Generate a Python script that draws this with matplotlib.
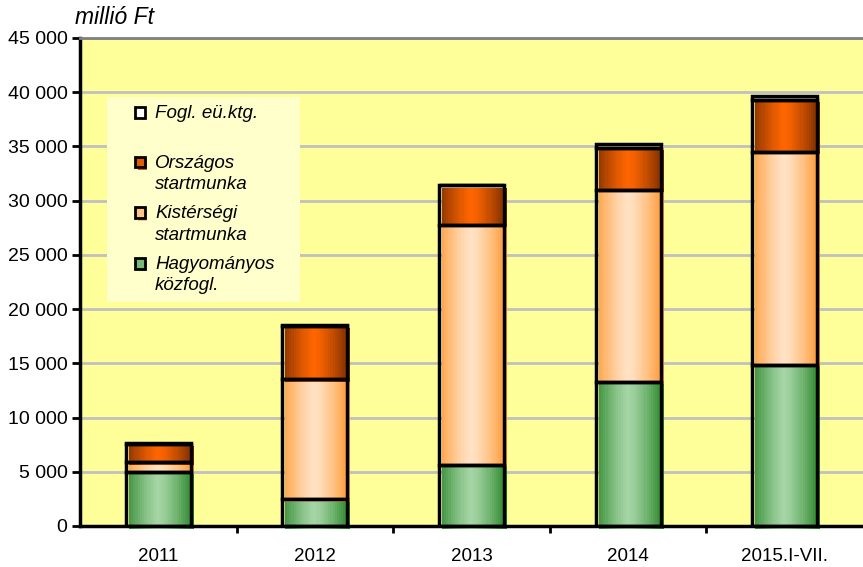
import matplotlib
matplotlib.use("Agg")
import matplotlib.pyplot as plt
from matplotlib.patches import Rectangle
import numpy as np

plt.rcParams["font.family"] = ["Liberation Sans", "DejaVu Sans"]

# data (millió Ft)
years = ["2011", "2012", "2013", "2014", "2015.I-VII."]
hagyomanyos = [4980, 2460, 5650, 13310, 14850]
kistersegi = [920, 11070, 22120, 17690, 19680]
orszagos = [1700, 4950, 3650, 3900, 4790]
fogl = [60, 60, 70, 340, 350]

series = [
    ("Hagyományos\nközfogl.", hagyomanyos, "#2b872b", "#a6d6a6", "#78b878"),
    ("Kistérségi\nstartmunka", kistersegi, "#ff9933", "#ffe3c6", "#ffc48a"),
    ("Országos\nstartmunka", orszagos, "#7a2e00", "#ff6600", "#e05a00"),
    ("Fogl. eü.ktg.", fogl, "#ffffff", "#ffffff", "#ffffff"),
]

fig = plt.figure(figsize=(8.63, 5.67), dpi=100)
ax = fig.add_axes([80 / 863, 41 / 567, 783 / 863, 488 / 567])
ax.set_facecolor("#ffff99")

x = np.arange(len(years))
width = 0.415
# the gradient fills sit a few pixels right of / below the outlines
dx = 3 / 156.6
dy = 2.5 / 10.84 * 1000


def gradient(edge, center, n=30):
    t = np.linspace(0, 1, n)
    v = 1 - np.clip(np.abs(t - 0.45) / 0.55, 0, 1) ** 1.3
    e = np.array(matplotlib.colors.to_rgb(edge))
    c = np.array(matplotlib.colors.to_rgb(center))
    return (e[None, :] * (1 - v[:, None]) + c[None, :] * v[:, None])[None, :, :]


bottom = np.zeros(len(years))
for label, vals, edge, center, _ in series:
    vals = np.array(vals, dtype=float)
    img = gradient(edge, center)
    for xi, b, h in zip(x, bottom, vals):
        ax.imshow(img, extent=[xi - width / 2 + dx, xi + width / 2 + dx, b - dy, b + h - dy],
                  aspect="auto", interpolation="nearest", zorder=2, clip_on=False)
    ax.bar(x, vals, width, bottom=bottom, facecolor="none", edgecolor="black",
           linewidth=2.5, zorder=3)
    bottom += vals

ax.set_xlim(-0.5, 4.5)
ax.set_ylim(0, 45000)
ax.set_aspect("auto")

yt = np.arange(0, 45001, 5000)
ax.set_yticks(yt)
ax.set_yticklabels([f"{v:,}".replace(",", " ") for v in yt], fontsize=14)
ax.yaxis.grid(True, color="#c0c0c0", linewidth=2, zorder=1)
ax.set_axisbelow(True)

ax.set_xticks(x)
ax.set_xticklabels(years, fontsize=13.5)
ax.tick_params(axis="x", length=0, pad=16)
ax.set_xticks(np.arange(0.5, 4.5, 1), minor=True)
ax.tick_params(axis="x", which="minor", length=5, width=2, direction="out")
ax.tick_params(axis="y", length=6, width=2, direction="out", pad=3)

ax.spines["right"].set_visible(False)
ax.spines["top"].set_color("#808080")
ax.spines["top"].set_linewidth(2)
ax.spines["left"].set_linewidth(2.5)
ax.spines["bottom"].set_linewidth(2.5)
for s in ax.spines.values():
    s.set_zorder(5)

fig.text(75 / 863, 1 - 18 / 567, "millió Ft", fontsize=16.5, style="italic",
         ha="left", va="center")

# legend box
ax.add_patch(Rectangle((0.0345, 0.459), 0.2465, 0.42, transform=ax.transAxes,
                       facecolor="#ffffcc", edgecolor="none", zorder=4))
legend_rows = [0.848, 0.747, 0.643, 0.539]
for (label, vals, edge, center, shade), ly in zip(series[::-1], legend_rows):
    ax.add_patch(Rectangle((0.0735, ly - 0.017), 0.0125, 0.022, transform=ax.transAxes,
                           facecolor=shade, edgecolor="none", zorder=5))
    ax.add_patch(Rectangle((0.0705, ly - 0.012), 0.0125, 0.022, transform=ax.transAxes,
                           facecolor=shade, edgecolor="black", linewidth=2, zorder=6))
    ax.text(0.096, ly + 0.014, label, transform=ax.transAxes, fontsize=13.5,
            style="italic", ha="left", va="top", linespacing=1.33, zorder=6)

fig.savefig("out.png", dpi=100)
